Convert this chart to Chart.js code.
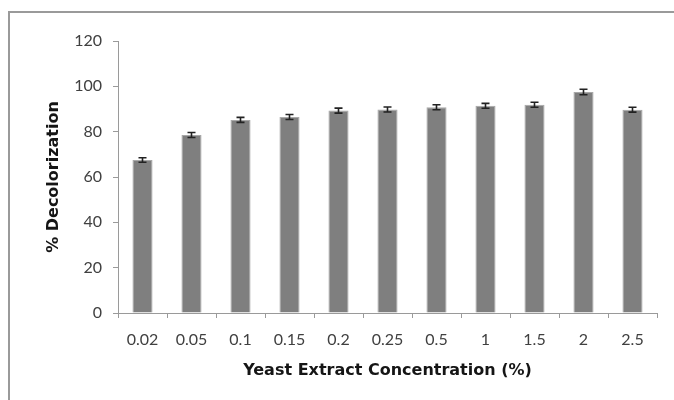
<!DOCTYPE html>
<html>
<head>
<meta charset="utf-8">
<title>Yeast extract concentration</title>
<script src="https://cdn.jsdelivr.net/npm/chart.js@4/dist/chart.umd.min.js"></script>
<style>
  html, body { margin: 0; padding: 0; background: #fff; }
  #wrap { width: 674px; height: 400px; position: relative; }
</style>
</head>
<body>
<div id="wrap"><canvas id="barChart" width="674" height="400"></canvas></div>
<script>
// yeast extract levels (%) and mean decolorization with its error
const concentrations = ['0.02', '0.05', '0.1', '0.15', '0.2', '0.25', '0.5', '1', '1.5', '2', '2.5'];
const decolorization = [67.5, 78.5, 85.2, 86.5, 89.3, 89.8, 90.8, 91.4, 91.9, 97.5, 89.7];
const errors = [1.0, 1.1, 1.1, 1.1, 1.1, 1.1, 1.1, 1.1, 1.1, 1.2, 1.1];
const yTicks = [0, 20, 40, 60, 80, 100, 120];

// grey frame round the whole figure
const framePlugin = {
  id: 'frame',
  beforeDraw(chart) {
    const ctx = chart.ctx;
    ctx.save();
    ctx.fillStyle = '#fff';
    ctx.fillRect(0, 0, chart.width, chart.height);
    ctx.strokeStyle = '#9a9a9a';
    ctx.lineWidth = 2;
    ctx.strokeRect(9, 12, 720, 440);
    ctx.restore();
  }
};

// capped error bars on top of each bar
const errorBarPlugin = {
  id: 'errorBars',
  afterDatasetsDraw(chart) {
    const ctx = chart.ctx;
    const yScale = chart.scales.y;
    const meta = chart.getDatasetMeta(0);
    ctx.save();
    ctx.strokeStyle = '#222';
    ctx.lineWidth = 1.6;
    meta.data.forEach((bar, i) => {
      const v = decolorization[i];
      const e = errors[i];
      const top = yScale.getPixelForValue(v + e);
      const bottom = yScale.getPixelForValue(v - e);
      const half = 4;
      ctx.beginPath();
      ctx.moveTo(bar.x, top);
      ctx.lineTo(bar.x, bottom);
      ctx.moveTo(bar.x - half, top);
      ctx.lineTo(bar.x + half, top);
      ctx.moveTo(bar.x - half, bottom);
      ctx.lineTo(bar.x + half, bottom);
      ctx.stroke();
    });
    ctx.restore();
  }
};

const tickFont = { family: 'Lato', size: 16 };
const titleFont = { family: 'DejaVu Sans', size: 16, weight: 'bold', lineHeight: 1.2 };

new Chart(document.getElementById('barChart').getContext('2d'), {
  type: 'bar',
  data: {
    labels: concentrations,
    datasets: [{
      data: decolorization,
      backgroundColor: '#7f7f7f',
      borderColor: '#a8a8a8',
      borderWidth: 1,
      barPercentage: 0.41,
      categoryPercentage: 1
    }]
  },
  options: {
    responsive: false,
    animation: false,
    events: [],
    layout: { padding: { left: 0, top: 41, right: 17, bottom: 0 } },
    plugins: {
      legend: { display: false },
      tooltip: { enabled: false }
    },
    scales: {
      x: {
        grid: { drawOnChartArea: false, tickLength: 5, color: '#9a9a9a' },
        border: { color: '#9a9a9a', width: 1 },
        ticks: { font: tickFont, color: '#404040', padding: 12, maxRotation: 0 },
        title: {
          display: true,
          text: 'Yeast Extract Concentration (%)',
          font: titleFont,
          color: '#151515',
          padding: { top: 0, bottom: 20 }
        },
        afterFit(scale) { scale.height = 87; }
      },
      y: {
        min: 0,
        max: 120,
        afterBuildTicks(scale) { scale.ticks = yTicks.map(v => ({ value: v })); },
        grid: { drawOnChartArea: false, tickLength: 5, color: '#9a9a9a' },
        border: { color: '#9a9a9a', width: 1 },
        ticks: { font: tickFont, color: '#404040', padding: 11 },
        title: {
          display: true,
          text: '% Decolorization',
          font: titleFont,
          color: '#151515',
          padding: { top: 44, bottom: 0 }
        },
        afterFit(scale) { scale.width = 118; }
      }
    }
  },
  plugins: [framePlugin, errorBarPlugin]
});
</script>
</body>
</html>
